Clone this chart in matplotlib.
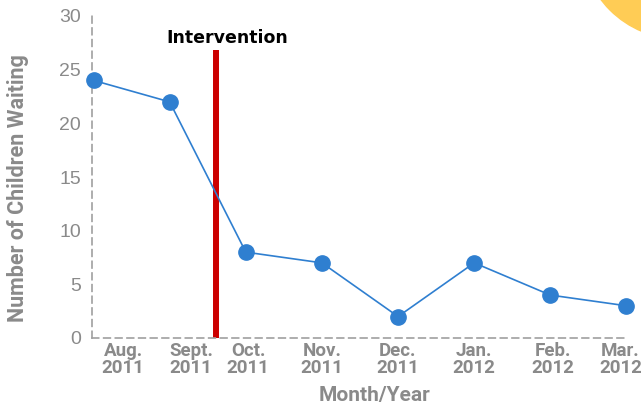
import matplotlib.pyplot as plt
from matplotlib.patches import Circle

# Data
months = ['Aug.\n2011', 'Sept.\n2011', 'Oct.\n2011', 'Nov.\n2011',
          'Dec.\n2011', 'Jan.\n2012', 'Feb.\n2012', 'Mar.\n2012']
children_waiting = [24, 22, 8, 7, 2, 7, 4, 3]
y_ticks = [0, 5, 10, 15, 20, 25, 30]

# Label placement (labels sit a bit right of the points in the original)
label_pos = [0.39, 1.28, 2.03, 3.0, 3.99, 4.99, 6.03, 6.92]
intervention_x = 1.61
intervention_top = 26.8

gray = '#8a8a8a'
blue = '#2f7fd0'

fig = plt.figure(figsize=(6.41, 4.07), dpi=100)
ax = fig.add_axes([92 / 641, 1 - 338 / 407, 536 / 641, 322 / 407])

x = list(range(len(children_waiting)))
ax.plot(x, children_waiting, color=blue, lw=1.2, marker='o', markersize=11,
        clip_on=False, zorder=3)

# Intervention line
ax.plot([intervention_x, intervention_x], [0, intervention_top], color='#cc0000',
        lw=4.3, solid_capstyle='butt', zorder=2)
ax.text(intervention_x + 0.15, intervention_top + 1.15, 'Intervention',
        ha='center', va='center', fontsize=12.5, fontweight='bold',
        family='DejaVu Sans', color='black')

ax.set_xlim(-0.02, 7.02)
ax.set_ylim(0, 30)

for s in ['top', 'right']:
    ax.spines[s].set_visible(False)
for s in ['left', 'bottom']:
    ax.spines[s].set_color('#a0a0a0')
    ax.spines[s].set_linewidth(1.2)
    ax.spines[s].set_linestyle((0, (4, 3)))

ax.set_yticks(y_ticks)
ax.set_yticklabels([str(v) for v in y_ticks], fontsize=14, color=gray,
                   family='Liberation Sans')
ax.tick_params(axis='y', length=0, pad=8)

ax.set_xticks(label_pos)
ax.set_xticklabels(months, fontsize=13.5, fontweight='bold', color=gray,
                   family='Roboto', linespacing=0.95)
ax.tick_params(axis='x', length=0, pad=3)

ax.set_ylabel('Number of Children Waiting', fontsize=15.5, fontweight='bold',
              color=gray, family='Roboto')
ax.yaxis.set_label_coords(-(92 - 18) / 536, (338 - 188) / 322)
ax.yaxis.label.set_va('center')
ax.set_xlabel('Month/Year', fontsize=15, fontweight='bold', color=gray,
              family='Roboto')
ax.xaxis.set_label_coords((375 - 92) / 536, -(395 - 338) / 322)
ax.xaxis.label.set_va('center')

# Decorative yellow circle in the top right corner
fig.add_artist(Circle((6.80, 4.67), 0.99, color='#ffcc55',
                      transform=fig.dpi_scale_trans))

fig.savefig('out.png', dpi=100)
